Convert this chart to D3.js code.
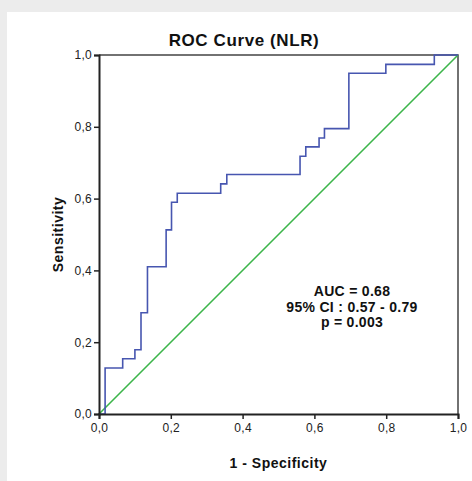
<!DOCTYPE html>
<html>
<head>
    <meta charset="utf-8">
    <script src="https://d3js.org/d3.v7.min.js"></script>
    <style>
        body { margin: 0; background: #ececec; }
        svg { display: block; }
    </style>
</head>
<body>
    <div id="myPlot"></div>
    <script>
        // ROC step points (1 - specificity, sensitivity)
        var fpr = [0, 0.017, 0.017, 0.066, 0.066, 0.100, 0.100, 0.117, 0.117, 0.135, 0.135, 0.187, 0.187,
            0.202, 0.202, 0.218, 0.218, 0.339, 0.339, 0.356, 0.356, 0.560, 0.560, 0.576, 0.576,
            0.613, 0.613, 0.628, 0.628, 0.696, 0.696, 0.799, 0.799, 0.934, 0.934, 1.0];
        var tpr = [0, 0, 0.128, 0.128, 0.154, 0.154, 0.179, 0.179, 0.282, 0.282, 0.410, 0.410, 0.513,
            0.513, 0.590, 0.590, 0.615, 0.615, 0.641, 0.641, 0.667, 0.667, 0.718, 0.718, 0.744,
            0.744, 0.769, 0.769, 0.795, 0.795, 0.949, 0.949, 0.974, 0.974, 1.0, 1.0];
        var tickValues = [0, 0.2, 0.4, 0.6, 0.8, 1.0];
        var statLines = ["AUC = 0.68", "95% CI : 0.57 - 0.79", "p = 0.003"];

        var W = 472, H = 481;
        var font = "Liberation Sans, Arial, sans-serif";
        var svg = d3.select("#myPlot").append("svg")
            .attr("width", W)
            .attr("height", H);

        // white panel
        svg.append("rect")
            .attr("x", 7).attr("y", 12)
            .attr("width", W - 7).attr("height", H - 12)
            .attr("fill", "white");

        var x = d3.scaleLinear().domain([0, 1]).range([99, 458]);
        var y = d3.scaleLinear().domain([0, 1]).range([414, 55]);

        var fmt = function (d) { return d3.format(".1f")(d).replace(".", ","); };

        // top and right frame
        svg.append("path")
            .attr("d", "M" + x(0) + "," + y(1) + "H" + x(1) + "V" + y(0))
            .attr("fill", "none")
            .attr("stroke", "#444")
            .attr("stroke-width", 1.5);

        // reference diagonal
        svg.append("line")
            .attr("x1", x(0)).attr("y1", y(0))
            .attr("x2", x(1)).attr("y2", y(1))
            .attr("stroke", "#3cb54a")
            .attr("stroke-width", 1.6);

        // ROC curve
        var pts = fpr.map(function (d, i) { return [d, tpr[i]]; });
        svg.append("path")
            .datum(pts)
            .attr("d", d3.line().x(function (d) { return x(d[0]); }).y(function (d) { return y(d[1]); }))
            .attr("fill", "none")
            .attr("stroke", "#4756b0")
            .attr("stroke-width", 1.6);

        // axes
        var xAxis = svg.append("g")
            .attr("transform", "translate(0," + y(0) + ")")
            .call(d3.axisBottom(x).tickValues(tickValues).tickFormat(fmt).tickSize(5).tickPadding(4));
        var yAxis = svg.append("g")
            .attr("transform", "translate(" + x(0) + ",0)")
            .call(d3.axisLeft(y).tickValues(tickValues).tickFormat(fmt).tickSize(5).tickPadding(2));

        [xAxis, yAxis].forEach(function (g) {
            g.select(".domain").attr("stroke", "#222").attr("stroke-width", 2);
            g.selectAll(".tick line").attr("stroke", "#222").attr("stroke-width", 1.5);
            g.selectAll("text")
                .attr("fill", "#222")
                .style("font-family", font)
                .style("font-size", "12px")
                .style("letter-spacing", "0.3px");
        });

        function label(sel, size, spacing) {
            return sel.attr("text-anchor", "middle")
                .style("font-family", font)
                .style("font-size", size + "px")
                .style("font-weight", "bold")
                .style("letter-spacing", spacing + "px")
                .attr("fill", "#111");
        }

        // title
        label(svg.append("text"), 17, 0.6)
            .attr("x", 244).attr("y", 46)
            .text("ROC Curve (NLR)");

        // axis titles
        label(svg.append("text"), 14, 0.5)
            .attr("x", (x(0) + x(1)) / 2).attr("y", 468)
            .text("1 - Specificity");

        label(svg.append("text"), 14, 0.5)
            .attr("transform", "translate(63," + (y(0) + y(1)) / 2 + ") rotate(-90)")
            .text("Sensitivity");

        // stats annotation
        label(svg.append("g").selectAll("text")
            .data(statLines)
            .enter()
            .append("text"), 14, 0.3)
            .attr("x", 352)
            .attr("y", function (d, i) { return 296 + i * 15.5; })
            .text(function (d) { return d; });
    </script>
</body>
</html>
